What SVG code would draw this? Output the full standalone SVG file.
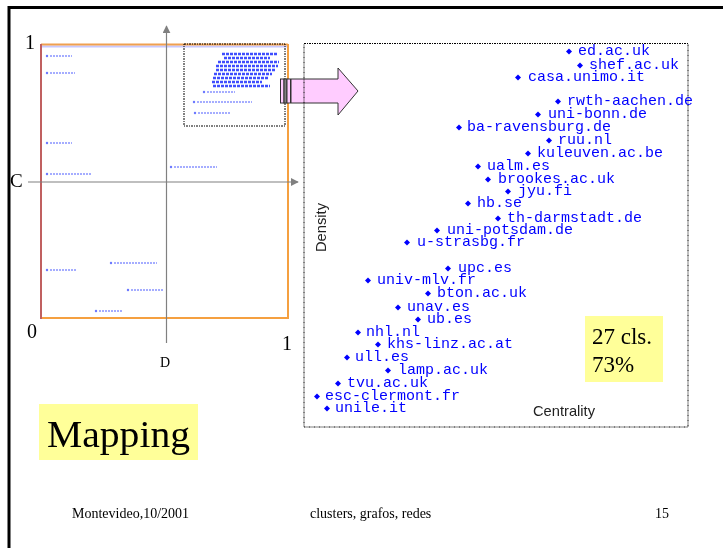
<svg xmlns="http://www.w3.org/2000/svg" width="723" height="548" viewBox="0 0 723 548">
<style>
.serif{font-family:"Liberation Serif","Times New Roman",serif;fill:#000}
.lab{font-family:"Liberation Mono","DejaVu Sans Mono",monospace;font-size:15px;fill:#0000ff}
.dia{fill:#0000ff}
.sans{font-family:"Liberation Sans",Arial,sans-serif;fill:#222}
.axis{stroke:#808080;stroke-width:1.2;fill:none}
.mini{stroke:#2a3cff;stroke-width:1.6;stroke-dasharray:2 1;opacity:0.55;fill:none}
.mdot{fill:#2a3cff;opacity:0.7}
</style>
<defs>
<marker id="ah" viewBox="0 0 10 10" refX="9" refY="5" markerWidth="8" markerHeight="8" orient="auto" markerUnits="userSpaceOnUse">
<path d="M0,0 L10,5 L0,10 z" fill="#808080"/>
</marker>
<filter id="blur" x="-10%" y="-50%" width="120%" height="200%"><feGaussianBlur stdDeviation="0.6"/></filter>
<symbol id="d" viewBox="-3 -3 6 6" overflow="visible"><path d="M0,-3 L3,0 L0,3 L-3,0 z" class="dia"/></symbol>
</defs>
<rect width="723" height="548" fill="#fff"/>
<!-- outer frame -->
<path d="M9,548 V7.5 H723" fill="none" stroke="#000" stroke-width="3"/>

<!-- left plot -->
<g id="left-plot">
<rect x="41" y="44.5" width="247" height="274" fill="#fff"/>
<line x1="41" y1="46.5" x2="287" y2="46.5" stroke="#c8c8ff" stroke-width="2"/>
<line x1="41" y1="44.5" x2="288" y2="44.5" stroke="#f0a050" stroke-width="2"/>
<line x1="288" y1="44" x2="288" y2="319" stroke="#f5a040" stroke-width="2"/>
<line x1="40" y1="318" x2="289" y2="318" stroke="#f5a040" stroke-width="2"/>
<line x1="41" y1="44" x2="41" y2="319" stroke="#c06060" stroke-width="2"/>
<rect x="184" y="44" width="101" height="82" fill="none" stroke="#000" stroke-width="1" stroke-dasharray="2 1 1 1"/>
<g filter="url(#blur)">
<circle cx="47" cy="56" r="1.2" class="mdot"/><line x1="50" y1="56" x2="72" y2="56" class="mini"/>
<circle cx="47" cy="73" r="1.2" class="mdot"/><line x1="50" y1="73" x2="75" y2="73" class="mini"/>
<circle cx="47" cy="143" r="1.2" class="mdot"/><line x1="50" y1="143" x2="72" y2="143" class="mini"/>
<circle cx="47" cy="174" r="1.2" class="mdot"/><line x1="50" y1="174" x2="92" y2="174" class="mini"/>
<circle cx="171" cy="167" r="1.2" class="mdot"/><line x1="174" y1="167" x2="217" y2="167" class="mini"/>
<circle cx="47" cy="270" r="1.2" class="mdot"/><line x1="50" y1="270" x2="77" y2="270" class="mini"/>
<circle cx="111" cy="263" r="1.2" class="mdot"/><line x1="114" y1="263" x2="157" y2="263" class="mini"/>
<circle cx="128" cy="290" r="1.2" class="mdot"/><line x1="131" y1="290" x2="163" y2="290" class="mini"/>
<circle cx="96" cy="311" r="1.2" class="mdot"/><line x1="99" y1="311" x2="122" y2="311" class="mini"/>
<circle cx="204" cy="92" r="1.2" class="mdot"/><line x1="207" y1="92" x2="235" y2="92" class="mini"/>
<circle cx="194" cy="102" r="1.2" class="mdot"/><line x1="197" y1="102" x2="252" y2="102" class="mini"/>
<circle cx="195" cy="113" r="1.2" class="mdot"/><line x1="198" y1="113" x2="230" y2="113" class="mini"/>
<g stroke="#1020ff" stroke-width="2.4" opacity="0.8" stroke-dasharray="3 1">
<line x1="222" y1="54" x2="277" y2="54"/>
<line x1="224" y1="58" x2="270" y2="58"/>
<line x1="218" y1="62" x2="279" y2="62"/>
<line x1="216" y1="66" x2="278" y2="66"/>
<line x1="216" y1="70" x2="276" y2="70"/>
<line x1="214" y1="74" x2="272" y2="74"/>
<line x1="213" y1="78" x2="268" y2="78"/>
<line x1="212" y1="82" x2="262" y2="82"/>
<line x1="213" y1="86" x2="270" y2="86"/>
</g>
</g>
</g>

<!-- connectors: axes -->
<g id="connectors">
<line x1="166.5" y1="343" x2="166.5" y2="26" class="axis" marker-end="url(#ah)"/>
<line x1="28" y1="182" x2="298" y2="182" class="axis" marker-end="url(#ah)"/>
</g>

<g id="axis-labels">
<text x="25" y="49" class="serif" font-size="20">1</text>
<text x="10" y="187" class="serif" font-size="19">C</text>
<text x="27" y="338" class="serif" font-size="20">0</text>
<text x="282" y="350" class="serif" font-size="20">1</text>
<text x="160" y="367" class="serif" font-size="14">D</text>
</g>

<!-- arrow -->
<g id="arrow" stroke="#333" stroke-width="1">
<rect x="280.5" y="79" width="3.5" height="24" fill="#ffccff"/>
<rect x="284" y="79" width="3" height="24" fill="#808080"/>
<rect x="287" y="79" width="3.5" height="24" fill="#ffccff"/>
<path d="M291,79 H338 V68 L358,91 L338,115 V103 H291 z" fill="#ffccff"/>
</g>

<!-- right panel -->
<g id="right-panel">
<rect x="304" y="43.5" width="384" height="383.5" fill="none" stroke="#000" stroke-width="1" stroke-dasharray="2 1 1 1"/>
<text class="sans" font-size="15" transform="translate(326,252) rotate(-90)" textLength="49" lengthAdjust="spacingAndGlyphs">Density</text>
<text x="533" y="416" class="sans" font-size="15" textLength="62" lengthAdjust="spacingAndGlyphs">Centrality</text>
</g>

<g id="labels">
<g id="n-ed"><use href="#d" x="566" y="48.5" width="6" height="6"/><text x="578" y="55" class="lab">ed.ac.uk</text></g>
<g id="n-shef"><use href="#d" x="577" y="62.5" width="6" height="6"/><text x="589" y="69" class="lab">shef.ac.uk</text></g>
<g id="n-casa"><use href="#d" x="515" y="74.5" width="6" height="6"/><text x="528" y="81" class="lab">casa.unimo.it</text></g>
<g id="n-rwth"><use href="#d" x="555" y="98.5" width="6" height="6"/><text x="567" y="105" class="lab">rwth-aachen.de</text></g>
<g id="n-bonn"><use href="#d" x="535" y="111.5" width="6" height="6"/><text x="548" y="118" class="lab">uni-bonn.de</text></g>
<g id="n-ba"><use href="#d" x="456" y="124.5" width="6" height="6"/><text x="467" y="131" class="lab">ba-ravensburg.de</text></g>
<g id="n-ruu"><use href="#d" x="546" y="137.5" width="6" height="6"/><text x="558" y="144" class="lab">ruu.nl</text></g>
<g id="n-kul"><use href="#d" x="525" y="150.5" width="6" height="6"/><text x="537" y="157" class="lab">kuleuven.ac.be</text></g>
<g id="n-ualm"><use href="#d" x="475" y="163.5" width="6" height="6"/><text x="487" y="170" class="lab">ualm.es</text></g>
<g id="n-brookes"><use href="#d" x="485" y="176.5" width="6" height="6"/><text x="498" y="183" class="lab">brookes.ac.uk</text></g>
<g id="n-jyu"><use href="#d" x="505" y="188.5" width="6" height="6"/><text x="518" y="195" class="lab">jyu.fi</text></g>
<g id="n-hb"><use href="#d" x="465" y="200.5" width="6" height="6"/><text x="477" y="207" class="lab">hb.se</text></g>
<g id="n-th"><use href="#d" x="495" y="215.5" width="6" height="6"/><text x="507" y="222" class="lab">th-darmstadt.de</text></g>
<g id="n-potsdam"><use href="#d" x="434" y="227.5" width="6" height="6"/><text x="447" y="234" class="lab">uni-potsdam.de</text></g>
<g id="n-strasbg"><use href="#d" x="404" y="239.5" width="6" height="6"/><text x="417" y="246" class="lab">u-strasbg.fr</text></g>
<g id="n-upc"><use href="#d" x="445" y="265.5" width="6" height="6"/><text x="458" y="272" class="lab">upc.es</text></g>
<g id="n-mlv"><use href="#d" x="365" y="277.5" width="6" height="6"/><text x="377" y="284" class="lab">univ-mlv.fr</text></g>
<g id="n-bton"><use href="#d" x="425" y="290.5" width="6" height="6"/><text x="437" y="297" class="lab">bton.ac.uk</text></g>
<g id="n-unav"><use href="#d" x="395" y="304.5" width="6" height="6"/><text x="407" y="311" class="lab">unav.es</text></g>
<g id="n-ub"><use href="#d" x="415" y="316.5" width="6" height="6"/><text x="427" y="323" class="lab">ub.es</text></g>
<g id="n-nhl"><use href="#d" x="355" y="329.5" width="6" height="6"/><text x="366" y="336" class="lab">nhl.nl</text></g>
<g id="n-khs"><use href="#d" x="375" y="341.5" width="6" height="6"/><text x="387" y="348" class="lab">khs-linz.ac.at</text></g>
<g id="n-ull"><use href="#d" x="344" y="354.5" width="6" height="6"/><text x="355" y="361" class="lab">ull.es</text></g>
<g id="n-lamp"><use href="#d" x="385" y="367.5" width="6" height="6"/><text x="398" y="374" class="lab">lamp.ac.uk</text></g>
<g id="n-tvu"><use href="#d" x="335" y="380.5" width="6" height="6"/><text x="347" y="387" class="lab">tvu.ac.uk</text></g>
<g id="n-esc"><use href="#d" x="314" y="393.5" width="6" height="6"/><text x="325" y="400" class="lab">esc-clermont.fr</text></g>
<g id="n-unile"><use href="#d" x="324" y="405.5" width="6" height="6"/><text x="335" y="412" class="lab">unile.it</text></g>
</g>

<g id="stat-box">
<rect x="585" y="316" width="78" height="66" fill="#ffff99"/>
<text x="592" y="344" class="serif" font-size="23">27 cls.</text>
<text x="592" y="372" class="serif" font-size="23">73%</text>
</g>

<g id="mapping">
<rect x="39" y="404" width="159" height="56" fill="#ffff99"/>
<text x="47" y="447" class="serif" font-size="37" textLength="143" lengthAdjust="spacingAndGlyphs">Mapping</text>
</g>

<g id="footer">
<text x="72" y="518" class="serif" font-size="14">Montevideo,10/2001</text>
<text x="310" y="518" class="serif" font-size="14">clusters, grafos, redes</text>
<text x="655" y="518" class="serif" font-size="14">15</text>
</g>
</svg>
